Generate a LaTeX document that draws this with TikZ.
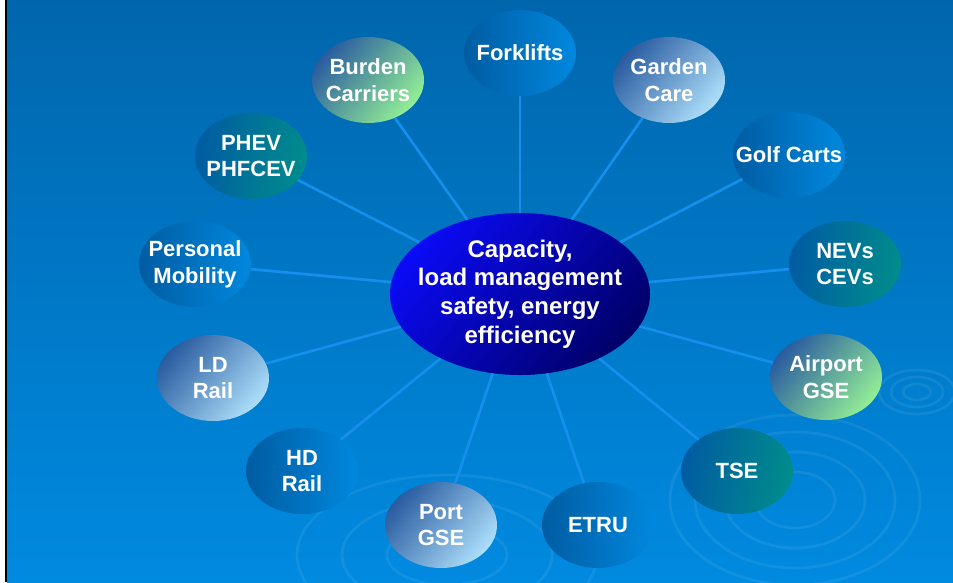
\documentclass[tikz,border=0pt]{standalone}
\usepackage{fontspec}
\setmainfont{Liberation Sans}
\usetikzlibrary{shapes.geometric}

\definecolor{bgtop}{RGB}{0,102,172}
\definecolor{bgbot}{RGB}{0,138,224}
\definecolor{spoke}{RGB}{22,142,236}
\definecolor{hubdark}{RGB}{0,0,105}
\definecolor{hublight}{RGB}{10,10,245}
\definecolor{deepblue}{RGB}{0,92,162}
\definecolor{midblue}{RGB}{0,136,222}
\definecolor{slateblue}{RGB}{42,92,160}
\definecolor{tealend}{RGB}{0,140,140}
\definecolor{greenend}{RGB}{146,238,150}
\definecolor{skyend}{RGB}{172,222,250}

\tikzset{
    sat/.style = {ellipse, minimum width = 84pt, minimum height = 64.5pt, inner sep = -14pt,
        align = center, text = white, font = \bfseries\fontsize{16.5}{20}\selectfont},
    satblue/.style = {sat, left color = deepblue, right color = midblue},
    satteal/.style = {sat, left color = deepblue, right color = tealend, shading angle = 80},
    satsky/.style = {sat, top color = slateblue, bottom color = skyend, shading angle = 50},
    satgreen/.style = {sat, top color = slateblue, bottom color = greenend, shading angle = 50},
    hub/.style = {ellipse, minimum width = 195pt, minimum height = 121.5pt, inner sep = -30pt,
        align = center, text = white, font = \bfseries\fontsize{18}{21.5}\selectfont,
        top color = hublight, bottom color = hubdark, shading angle = 50},
    ripple/.style = {white, opacity = 0.07, line width = 2pt}
}

\begin{document}
\begin{tikzpicture}[x = 0.75pt, y = -0.75pt]
        \useasboundingbox (0,0) rectangle (953,582);
        \fill[white] (0,0) rectangle (5,582);
        \fill[black] (5,0) rectangle (7,582);
        \shade[top color = bgtop, bottom color = bgbot] (7,0) rectangle (953,582);

        % ripples
        \draw[ripple] (917,392) ellipse (14 and 8);
        \draw[ripple] (917,392) ellipse (26 and 15);
        \draw[ripple] (917,392) ellipse (38 and 22);
        \draw[ripple] (795,500) ellipse (40 and 28);
        \draw[ripple] (795,500) ellipse (70 and 48);
        \draw[ripple] (795,500) ellipse (100 and 68);
        \draw[ripple] (795,500) ellipse (125 and 85);
        \draw[ripple] (447,555) ellipse (60 and 30);
        \draw[ripple] (447,555) ellipse (105 and 55);
        \draw[ripple] (447,555) ellipse (150 and 80);

        \node[hub] (hub) at (520,294) {Capacity,\\ load management\\ safety, energy\\ efficiency};

        \node[satblue]  (forklifts) at (520,53)  {Forklifts};
        \node[satgreen] (burden)    at (368,80)  {Burden\\ Carriers};
        \node[satsky]   (garden)    at (669,80)  {Garden\\ Care};
        \node[satblue]  (golf)      at (789,155) {Golf Carts};
        \node[satteal]  (nevs)      at (845,264) {NEVs\\ CEVs};
        \node[satgreen] (airport)   at (826,377) {Airport\\ GSE};
        \node[satteal]  (tse)       at (737,471) {TSE};
        \node[satblue]  (etru)      at (598,525) {ETRU};
        \node[satsky]   (port)      at (441,525) {Port\\ GSE};
        \node[satblue]  (hdrail)    at (302,471) {HD\\ Rail};
        \node[satsky]   (ldrail)    at (213,378) {LD\\ Rail};
        \node[satblue]  (personal)  at (195,264) {Personal\\ Mobility};
        \node[satteal]  (phev)      at (251,156) {PHEV\\ PHFCEV};

        \draw[spoke, line width = 2pt] (hub) -- (forklifts);
        \draw[spoke, line width = 2pt] (hub) -- (burden);
        \draw[spoke, line width = 2pt] (hub) -- (garden);
        \draw[spoke, line width = 2pt] (hub) -- (golf);
        \draw[spoke, line width = 2pt] (hub) -- (nevs);
        \draw[spoke, line width = 2pt] (hub) -- (airport);
        \draw[spoke, line width = 2pt] (hub) -- (tse);
        \draw[spoke, line width = 2pt] (hub) -- (etru);
        \draw[spoke, line width = 2pt] (hub) -- (port);
        \draw[spoke, line width = 2pt] (hub) -- (hdrail);
        \draw[spoke, line width = 2pt] (hub) -- (ldrail);
        \draw[spoke, line width = 2pt] (hub) -- (personal);
        \draw[spoke, line width = 2pt] (hub) -- (phev);
    \end{tikzpicture}
\end{document}
